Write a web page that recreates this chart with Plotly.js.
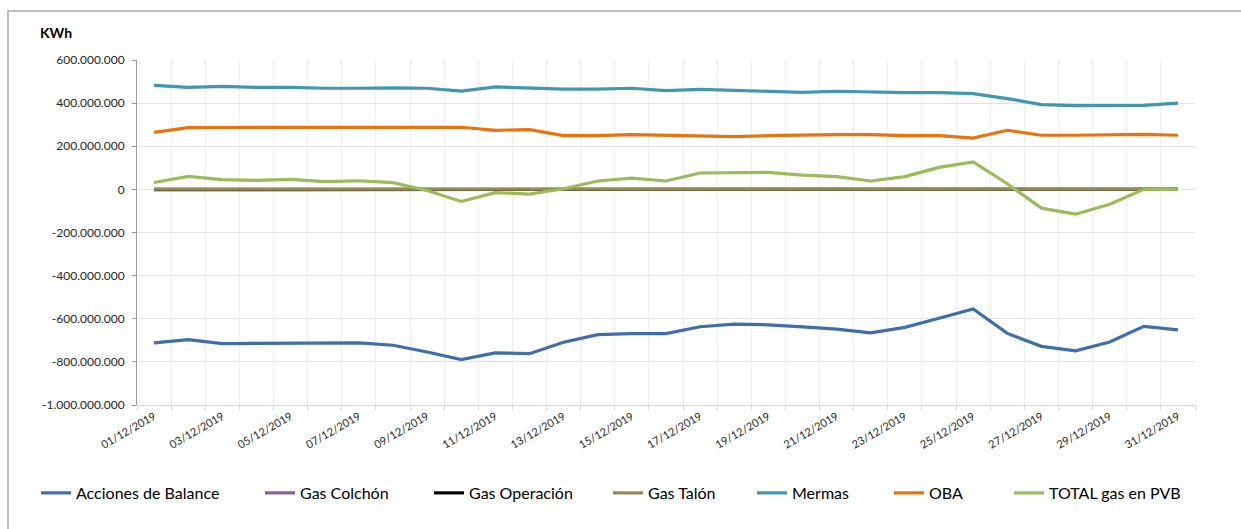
<!DOCTYPE html>
<html>
<head>
<meta charset="utf-8">
<script src="https://cdn.plot.ly/plotly-3.0.1.min.js"></script>
<style>html,body{margin:0;padding:0;background:#fff;}#chart{width:1241px;height:529px;}</style>
</head>
<body>
<div id="chart"></div>
<script>
const dates = ['2019-12-01','2019-12-02','2019-12-03','2019-12-04','2019-12-05','2019-12-06','2019-12-07','2019-12-08','2019-12-09','2019-12-10','2019-12-11','2019-12-12','2019-12-13','2019-12-14','2019-12-15','2019-12-16','2019-12-17','2019-12-18','2019-12-19','2019-12-20','2019-12-21','2019-12-22','2019-12-23','2019-12-24','2019-12-25','2019-12-26','2019-12-27','2019-12-28','2019-12-29','2019-12-30','2019-12-31'];

const accionesBalance = [-712e6,-697e6,-715e6,-714e6,-711e6,-712e6,-712e6,-723e6,-754e6,-789e6,-758e6,-762e6,-709e6,-674e6,-669e6,-669e6,-637e6,-625e6,-628e6,-638e6,-648e6,-665e6,-640e6,-598e6,-555e6,-668e6,-728e6,-749e6,-708e6,-635e6,-652e6];
const gasColchon = [0,0,0,0,0,0,0,0,0,0,0,0,0,0,0,0,0,0,0,0,0,0,0,0,0,0,0,0,0,0,0];
const gasOperacion = [-1e6,-1e6,-1e6,-1e6,-1e6,-1e6,-1e6,-1e6,-1e6,-1e6,-1e6,-1e6,-1e6,-1e6,-1e6,-1e6,-1e6,-1e6,-1e6,-1e6,-1e6,-1e6,-1e6,-1e6,-1e6,-1e6,-2e6,-2e6,-2e6,-1e6,0];
const gasTalon = [1e6,1e6,1e6,1e6,1e6,1e6,1e6,1e6,1e6,1e6,1e6,1e6,1e6,1e6,1e6,1e6,1e6,1e6,1e6,1e6,1e6,1e6,1e6,1e6,1e6,1e6,1e6,1e6,1e6,1e6,1e6];
const mermas = [482e6,473e6,478e6,473e6,473e6,469e6,469e6,471e6,469e6,456e6,475e6,470e6,465e6,465e6,469e6,458e6,464e6,459e6,456e6,450e6,455e6,451e6,449e6,449e6,444e6,421e6,393e6,388e6,390e6,390e6,400e6];
const oba = [264e6,286e6,287e6,287e6,288e6,288e6,287e6,289e6,289e6,288e6,274e6,277e6,249e6,249e6,254e6,251e6,251e6,245e6,249e6,252e6,254e6,254e6,249e6,249e6,238e6,274e6,251e6,251e6,254e6,255e6,251e6];
const totalPVB = [32e6,60e6,45e6,42e6,46e6,36e6,40e6,31e6,-5e6,-56e6,-15e6,-22e6,3e6,39e6,52e6,39e6,76e6,77e6,79e6,66e6,59e6,39e6,59e6,102e6,127e6,26e6,-87e6,-115e6,-69e6,0,0];

const seriesNames = ['Acciones de Balance','Gas Colchón','Gas Operación','Gas Talón','Mermas','OBA','TOTAL gas en PVB'];
const seriesColors = ['#3F6EAA','#8064A2','#000000','#948A54','#3F97B0','#E8720C','#9BBB59'];
const seriesValues = [accionesBalance, gasColchon, gasOperacion, gasTalon, mermas, oba, totalPVB];
const legendWidths = [179, 124, 134, 99, 92, 75, 130];

const xTickVals = ['2019-12-01','2019-12-03','2019-12-05','2019-12-07','2019-12-09','2019-12-11','2019-12-13','2019-12-15','2019-12-17','2019-12-19','2019-12-21','2019-12-23','2019-12-25','2019-12-27','2019-12-29','2019-12-31'];
const xTickText = ['01/12/2019','03/12/2019','05/12/2019','07/12/2019','09/12/2019','11/12/2019','13/12/2019','15/12/2019','17/12/2019','19/12/2019','21/12/2019','23/12/2019','25/12/2019','27/12/2019','29/12/2019','31/12/2019'];
const yTickVals = [600e6,400e6,200e6,0,-200e6,-400e6,-600e6,-800e6,-1000e6];
const yTickText = ['600.000.000','400.000.000','200.000.000','0','-200.000.000','-400.000.000','-600.000.000','-800.000.000','-1.000.000.000'];

const traces = seriesNames.map((name, i) => ({
  type: 'scatter',
  mode: 'lines',
  name: name,
  x: dates,
  y: seriesValues[i],
  line: {color: seriesColors[i], width: 3.2},
  legendwidth: legendWidths[i],
  hoverinfo: 'skip'
}));

const layout = {
  width: 1241,
  height: 529,
  paper_bgcolor: '#ffffff',
  plot_bgcolor: '#ffffff',
  margin: {l: 137, r: 46, t: 60, b: 124},
  font: {family: 'Lato, "Open Sans", sans-serif', color: '#262626', size: 12},
  title: {
    text: '<b>KWh</b>',
    x: 40/1241, xanchor: 'left', xref: 'container',
    y: 1 - 33/529, yanchor: 'middle', yref: 'container',
    font: {family: 'Lato, sans-serif', size: 14, color: '#000'}
  },
  showlegend: true,
  legend: {
    orientation: 'h',
    x: (36 - 137) / 1058, xanchor: 'left',
    y: -0.255, yanchor: 'middle',
    font: {family: 'Lato, sans-serif', size: 16, color: '#000'},
    itemwidth: 30,
    traceorder: 'normal'
  },
  xaxis: {
    type: 'date',
    range: ['2019-11-30 12:00', '2019-12-31 12:00'],
    tickmode: 'array',
    tickvals: xTickVals,
    ticktext: xTickText,
    tickangle: -30,
    tickfont: {family: 'Lato, sans-serif', size: 11, color: '#262626'},
    showgrid: false,
    ticks: '',
    zeroline: false,
    showline: true,
    linecolor: '#d9d9d9',
    linewidth: 1,
    minor: {
      tick0: '2019-11-30 12:00',
      dtick: 86400000,
      showgrid: true,
      gridcolor: '#efefef',
      gridwidth: 1,
      ticks: 'outside',
      ticklen: 4,
      tickcolor: '#d9d9d9'
    },
    fixedrange: true
  },
  yaxis: {
    range: [-1000e6, 600e6],
    tickmode: 'array',
    tickvals: yTickVals,
    ticktext: yTickText,
    tickfont: {family: 'Lato, sans-serif', size: 12, color: '#262626'},
    ticklabelstandoff: 5,
    showgrid: true,
    gridcolor: '#e3e3e3',
    gridwidth: 1,
    zeroline: false,
    showline: true,
    linecolor: '#9a9a9a',
    linewidth: 1,
    ticks: 'outside',
    ticklen: 4,
    tickcolor: '#9a9a9a',
    fixedrange: true
  },
  shapes: [{
    type: 'rect',
    xref: 'paper', yref: 'paper',
    x0: (8 - 137) / 1058, x1: (1260 - 137) / 1058,
    y0: (405 - 560) / 345, y1: (405 - 11) / 345,
    line: {color: '#a6a6a6', width: 1.5},
    fillcolor: 'rgba(0,0,0,0)',
    layer: 'below'
  }]
};

Plotly.newPlot('chart', traces, layout, {displayModeBar: false, staticPlot: true});
</script>
</body>
</html>
